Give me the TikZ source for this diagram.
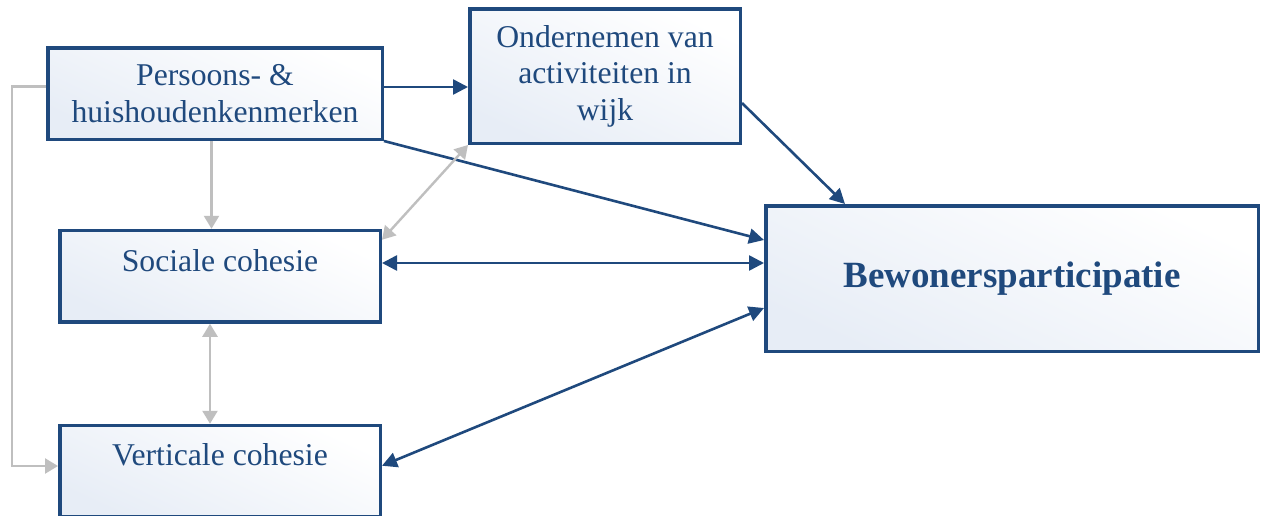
\documentclass[tikz,border=0pt]{standalone}
\usepackage{fontspec}
\setmainfont{Liberation Serif}
\usetikzlibrary{arrows.meta}
\definecolor{dblue}{HTML}{1F497D}
\definecolor{lgray}{HTML}{BFBFBF}
\definecolor{fillblue}{HTML}{E7EDF6}
\begin{document}
\begin{tikzpicture}[x=1pt,y=-1pt,
  box/.style={draw=dblue, line width=3.5pt, top color=white, bottom color=fillblue, shading angle=-25,
    text=dblue, font=\fontsize{31.7}{36.5}\selectfont, align=center, inner sep=0pt},
  barrow/.style={draw=dblue, line width=2.6pt, -{Triangle[length=15pt,width=15pt]}},
  bbarrow/.style={draw=dblue, line width=2.6pt, {Triangle[length=15pt,width=15pt]}-{Triangle[length=15pt,width=15pt]}},
  garrow/.style={draw=lgray, line width=2.4pt, -{Triangle[length=13pt,width=15pt]}},
  ggarrow/.style={draw=lgray, line width=2.4pt, {Triangle[length=13pt,width=15pt]}-{Triangle[length=13pt,width=15pt]}}]
\clip (0,0) rectangle (1262,515);
\fill[white] (0,0) rectangle (1262,515);
\node[box, minimum width=334.5pt, minimum height=91.5pt] (persoons) at (215,93.5) {Persoons- \&\\huishoudenkenmerken};
\node[box, minimum width=270.5pt, minimum height=134.5pt] (ondernemen) at (605,76) {Ondernemen van\\activiteiten in\\wijk};
\node[box, anchor=north, minimum width=320.5pt, text height=41pt, text depth=50.5pt] (sociale) at (220,228.75) {Sociale cohesie};
\node[box, anchor=north, minimum width=320.5pt, text height=40pt, text depth=51.5pt] (verticale) at (220,423.75) {Verticale cohesie};
\node[box, minimum width=492.5pt, minimum height=145.5pt, font=\fontsize{37}{40}\selectfont\bfseries] (bewoners) at (1012,278.5) {Bewonersparticipatie};
\coordinate (bend) at (12,466);
\coordinate (soctarget) at ([yshift=15.5pt]bewoners.west);
% blue connectors
\draw[barrow] ([yshift=6.5pt]persoons.east) -- ([yshift=-11pt]ondernemen.west);
\draw[barrow] (persoons.south east) -- ([yshift=38.5pt]bewoners.west);
\draw[barrow] ([yshift=-27pt]ondernemen.east) -- ([xshift=-167pt]bewoners.north);
\draw[bbarrow] (soctarget -| sociale.east) -- (soctarget);
\draw[bbarrow] ([yshift=5.5pt]verticale.east) -- ([yshift=-29.5pt]bewoners.west);
% gray connectors
\draw[garrow] ([xshift=-3.5pt]persoons.south) -- ([xshift=-3.5pt]persoons.south |- sociale.north);
\draw[ggarrow] ([yshift=36.5pt]sociale.east) -- (ondernemen.south west);
\draw[ggarrow] ([xshift=-10pt]sociale.south) -- ([xshift=-10pt]sociale.south |- verticale.north);
\draw[garrow] ([yshift=7pt]persoons.west) -| (bend) -- (bend -| verticale.west);
\end{tikzpicture}
\end{document}
